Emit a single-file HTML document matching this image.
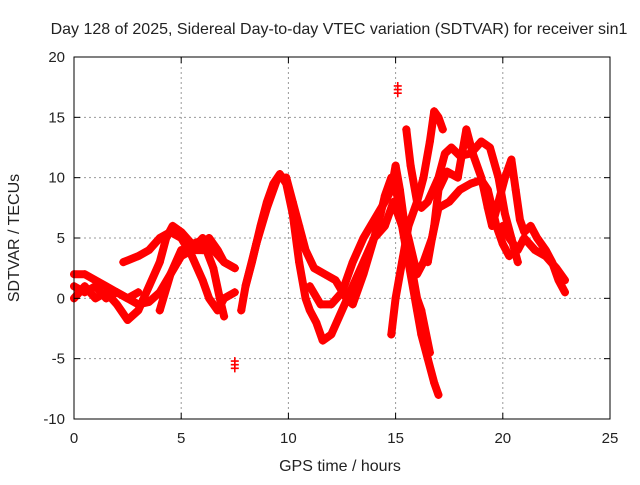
<!DOCTYPE html>
<html><head><meta charset="utf-8"><style>
body{margin:0;background:#fff}
svg text{font-family:"Liberation Sans",sans-serif;font-size:15px;fill:#222}
svg text.big{font-size:16px}
</style></head><body>
<svg id="chart" width="640" height="480" xmlns="http://www.w3.org/2000/svg">
<rect width="640" height="480" fill="#fff"/>
<text class="big" x="339" y="34" text-anchor="middle">Day 128 of 2025, Sidereal Day-to-day VTEC variation (SDTVAR) for receiver sin1</text>
<text class="big" x="340" y="471" text-anchor="middle">GPS time / hours</text>
<text class="big" transform="translate(19,238) rotate(-90)" text-anchor="middle">SDTVAR / TECUs</text>
<g id="grid"></g>
<g id="marks"></g>
<rect x="74" y="57" width="536" height="362" fill="none" stroke="#000" stroke-width="1"/>
<g id="ticks"></g>
</svg>
<script>
const xTicks=[0,5,10,15,20,25];
const yTicks=[-10,-5,0,5,10,15,20];
const trackA=[[0,0],[0.5,1],[1,0],[1.5,0.5],[2,-0.5],[2.5,-1.8],[3,-1],[3.5,1],[4,3],[4.3,5],[4.6,6],[5,5.5],[5.5,4.5],[6,4.8],[6.5,2.5],[6.8,0],[7,-1.5]];
const trackB=[[0,2],[0.5,2],[1,1.5],[1.5,1],[2,0.5],[2.5,0],[3,-0.5],[3.5,-0.3],[4,0.5],[4.5,2],[5,4],[5.5,4],[6,4],[6.3,5],[6.7,4],[7,3],[7.5,2.5]];
const trackC=[[2.3,3],[3,3.5],[3.5,4],[4,5],[4.5,5.5],[5,5],[5.5,3.5],[6,1.5],[6.3,0],[6.7,-1],[7,0],[7.5,0.5]];
const trackD=[[4,-1],[4.5,2],[5,3.5],[5.5,4],[6,5],[6.5,4],[7,3],[7.5,2.5]];
const trackE=[[0,1],[0.5,0.5],[1,1],[1.5,0],[2,0.5],[2.5,0],[3,0.5]];
const trackF=[[7.8,-1],[8,1],[8.3,3],[8.7,6],[9,8],[9.3,9.5],[9.6,10.3],[9.9,9.5],[10.2,7],[10.5,3],[10.8,0],[11,-1],[11.3,-2],[11.6,-3.5],[12,-3],[12.5,-1],[13,1],[13.5,3],[14,5],[14.5,6],[14.9,8],[15.3,6],[15.6,3],[15.9,0],[16,-1],[16.2,-3],[16.5,-5],[16.8,-7],[17,-8]];
const trackG=[[8,1],[8.5,4.5],[9,7.5],[9.5,10],[9.9,10],[10.2,8],[10.5,6],[10.8,4],[11.2,2.5],[11.7,2],[12.2,1.5],[12.7,0],[13,-0.5],[13.5,2],[14,5],[14.3,7],[14.5,8.5],[14.8,10],[15,9],[15.3,7],[15.6,5],[16,2],[16.3,3],[16.7,5],[17,7.5],[17.5,8],[18,9],[18.5,9.5],[19,9.8],[19.3,9],[19.7,6],[20,4.5],[20.3,3.5]];
const trackH=[[11,1],[11.5,-0.5],[12,-0.5],[12.5,0.5],[13,3],[13.5,5],[14,6.5],[14.5,8],[14.8,9],[15,11],[15.2,9],[15.5,5],[15.8,2],[16,0],[16.2,-1],[16.6,-4.5]];
const trackI=[[14.8,-3],[15,0],[15.3,3],[15.6,6],[16,8],[16.3,10],[16.6,13],[16.8,15.5],[17,15],[17.2,14]];
const trackJ=[[15.5,14],[15.7,11],[16,8],[16.2,7.5],[16.5,8],[17,10],[17.3,12],[17.6,12.5],[18,11.8],[18.5,12],[19,13],[19.4,12.5],[19.8,10],[20.1,7],[20.4,5],[20.7,3]];
const trackK=[[16.5,3],[16.8,6],[17,9],[17.4,10.5],[17.9,10],[18.3,14],[18.6,12],[19,10],[19.3,7.5],[19.5,6],[19.8,8],[20.1,10],[20.4,11.5],[20.6,9],[20.8,6.5],[21,5.5],[21.3,6],[21.6,5],[22,4],[22.3,3],[22.6,1.5],[22.9,0.5]];
const trackL=[[20,6],[20.3,5],[20.7,4],[21,5],[21.5,4],[22,3.5],[22.5,2.5],[22.9,1.5]];
const outliers=[[7.5,-5.5],[15.1,17.3]];
const tracks=[trackA,trackB,trackC,trackD,trackE,trackF,trackG,trackH,trackI,trackJ,trackK,trackL];
const NS="http://www.w3.org/2000/svg";
const X0=74,X1=610,Y0=419,Y1=57;
function xs(h){return X0+(h-0)/(25-0)*(X1-X0);}
function ys(v){return Y0-(v+10)/(30)*(Y0-Y1);}
const grid=document.getElementById('grid'),ticks=document.getElementById('ticks'),marks=document.getElementById('marks');
function mk(tag,attrs,parent){const e=document.createElementNS(NS,tag);for(const k in attrs)e.setAttribute(k,attrs[k]);parent.appendChild(e);return e;}
xTicks.forEach(t=>{const x=xs(t);
 if(t>0&&t<25){const g=mk('line',{x1:x,x2:x,y1:Y1,y2:Y0,stroke:'#999','stroke-dasharray':'2,3'},grid);}
 mk('line',{x1:x,x2:x,y1:Y0,y2:Y0-6,stroke:'#000'},ticks);mk('line',{x1:x,x2:x,y1:Y1,y2:Y1+6,stroke:'#000'},ticks);
 const l=mk('text',{x:x,y:Y0+24,'text-anchor':'middle'},ticks);l.textContent=t;
 });
yTicks.forEach(t=>{const y=ys(t);
 if(t>-10&&t<20){const g=mk('line',{x1:X0,x2:X1,y1:y,y2:y,stroke:'#999','stroke-dasharray':'2,3'},grid);}
 mk('line',{x1:X0,x2:X0+6,y1:y,y2:y,stroke:'#000'},ticks);mk('line',{x1:X1,x2:X1-6,y1:y,y2:y,stroke:'#000'},ticks);
 const l=mk('text',{x:X0-9,y:y+5,'text-anchor':'end'},ticks);l.textContent=t;
 });
function plus(h,v){const x=xs(h),y=ys(v);
 const p=mk('path',{d:`M${x-4},${y}h8M${x},${y-4}v8`,stroke:'#f00','stroke-width':1.6},marks);
 }
tracks.forEach(tr=>{
 const pts=tr.map(p=>xs(p[0])+','+ys(p[1])).join(' ');
 const pl=mk('polyline',{points:pts,fill:'none',stroke:'#f00','stroke-width':8,'stroke-linejoin':'round','stroke-linecap':'round'},marks);
 
 tr.forEach(p=>plus(p[0],p[1]));
});
outliers.forEach(p=>{plus(p[0],p[1]);plus(p[0],p[1]+0.3);plus(p[0],p[1]-0.3);});
</script>
</body></html>
